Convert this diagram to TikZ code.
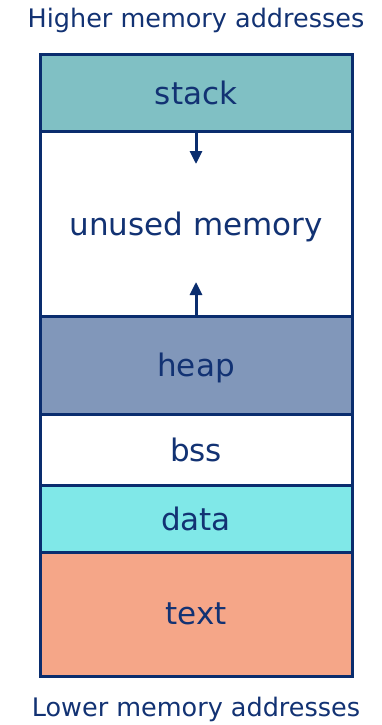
\documentclass[tikz,border=0pt]{standalone}
\usepackage{fontspec}
\setmainfont{DejaVu Sans}
\usepackage{xcolor}
\usetikzlibrary{arrows.meta}
\definecolor{navy}{RGB}{10,45,110}
\definecolor{ink}{RGB}{18,50,115}
\definecolor{stackc}{RGB}{128,192,196}
\definecolor{heapc}{RGB}{129,151,186}
\definecolor{datac}{RGB}{128,232,232}
\definecolor{textc}{RGB}{245,166,136}
\tikzset{
	seg/.style={draw=navy,line width=3pt,minimum width=312pt,inner sep=0pt,
		text=ink,font=\fontsize{31}{32}\selectfont,text depth=0pt},
	addr/.style={text=ink,font=\fontsize{25.5}{27}\selectfont},
	growarrow/.style={navy,line width=3pt,-{Triangle[length=13pt,width=12pt]}}
}

\begin{document}
\begin{tikzpicture}[x=1pt,y=-1pt]
		\useasboundingbox (0,0) rectangle (382,725);
		\node[addr] (high) at (196,20) {Higher memory addresses};
		\node[addr] (low) at (196,709) {Lower memory addresses};
		
		\node[seg,fill=white,minimum height=185pt] (unused) at (196,223.5) {unused memory};
		\node[seg,fill=stackc,minimum height=76pt] (stack) at (196,93) {stack};
		\node[seg,fill=heapc,minimum height=98pt] (heap) at (196,365) {heap};
		\node[seg,fill=white,minimum height=71pt] (bss) at (196,449.5) {bss};
		\node[seg,fill=datac,minimum height=67pt] (data) at (196,518.5) {data};
		\node[seg,fill=textc,minimum height=124pt] (text) at (196,614) {text};
		
		\coordinate (down) at (196,164);
		\coordinate (up) at (196,282);
		\draw[growarrow] (stack.south) -- (down);
		\draw[growarrow] (heap.north) -- (up);
	\end{tikzpicture}
\end{document}
